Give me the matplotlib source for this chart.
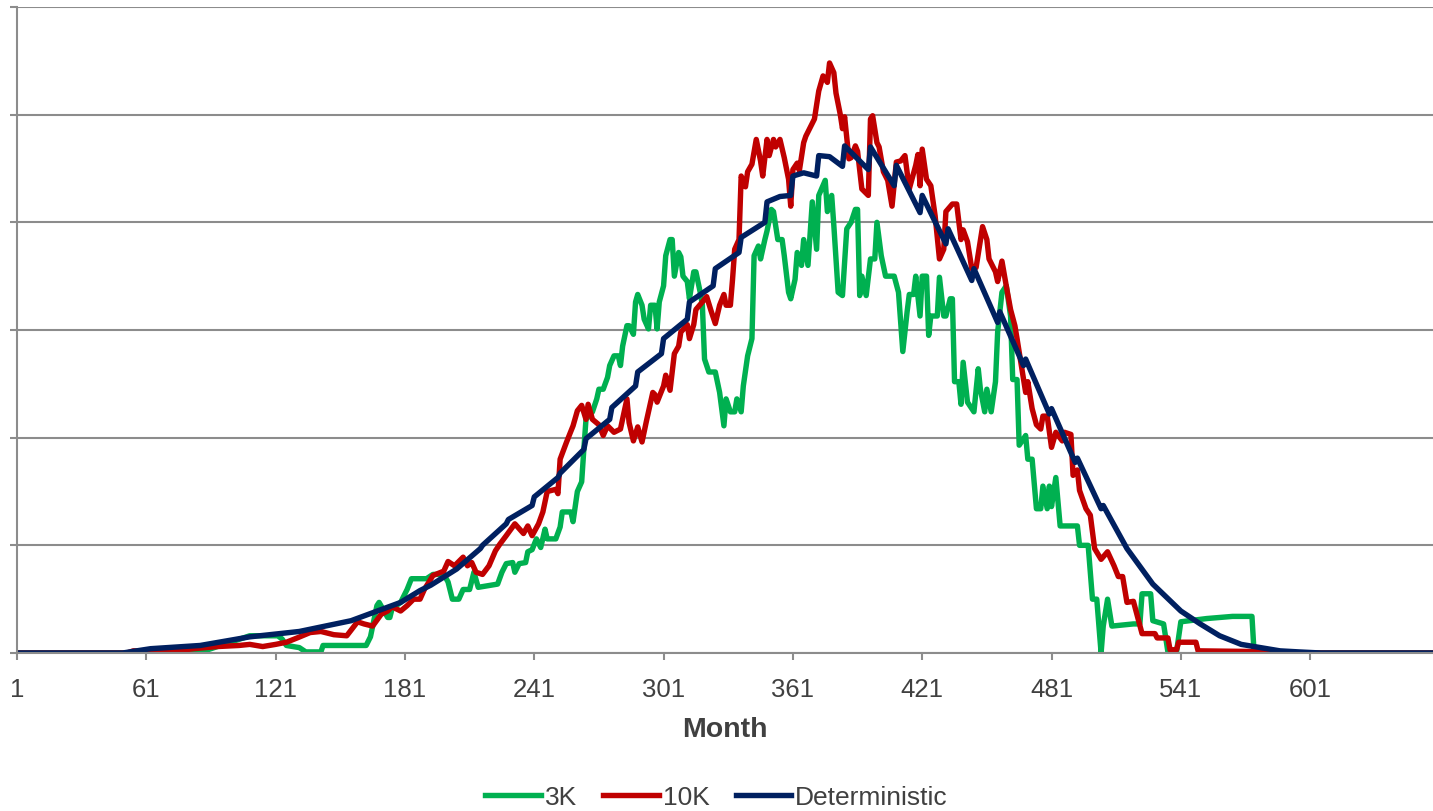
import matplotlib
matplotlib.use("Agg")
import matplotlib.pyplot as plt

plt.rcParams['font.family'] = ['Liberation Sans', 'DejaVu Sans']

# monthly series (month index, level)
det_month = [1, 50, 63, 86, 109, 132, 156, 179, 188, 193, 205, 216, 217, 228, 229,
             240, 241, 252, 253, 264, 265, 276, 277, 288, 289, 300, 301, 312, 313,
             324, 325, 336, 337, 348, 349, 355, 360, 361, 366, 372, 373, 378, 384,
             385, 396, 397, 408, 409, 420, 421, 432, 433, 444, 445, 456, 457, 468,
             469, 480, 481, 492, 493, 504, 505, 516, 528, 541, 550, 559, 569, 578,
             587, 596, 606, 658]
det_value = [0, 0, 4, 7, 15, 20, 30, 47, 58, 63, 78, 97, 100, 120, 124,
             137, 145, 163, 167, 189, 199, 217, 228, 248, 261, 278, 292, 310, 326,
             341, 357, 372, 386, 400, 419, 424, 425, 443, 446, 443, 462, 461, 452,
             471, 449, 470, 434, 453, 409, 425, 380, 394, 346, 357, 307, 317, 267,
             273, 222, 227, 177, 181, 134, 137, 97, 64, 39, 27, 16, 8, 5,
             2, 1, 0, 0]

k10_month = [1, 52, 55, 71, 83, 94, 104, 109, 115, 121, 126, 131, 137, 142, 148, 154,
             159, 162, 166, 170, 173, 175, 179, 182, 185, 188, 190, 194, 199, 201,
             204, 208, 210, 212, 214, 217, 220, 223, 225, 228, 232, 236, 238, 240,
             243, 245, 247, 251, 252, 253, 256, 259, 261, 263, 265, 266, 268, 271,
             273, 275, 278, 281, 284, 285, 287, 289, 291, 293, 296, 297, 298, 301,
             302, 304, 306, 308, 309, 312, 313, 315, 316, 319, 321, 323, 325, 327,
             329, 330, 332, 333, 334, 336, 337, 339, 340, 342, 344, 346, 347, 349,
             350, 352, 353, 355, 357, 359, 360, 361, 363, 364, 366, 367, 369, 371,
             373, 375, 377, 378, 380, 381, 383, 384, 385, 387, 388, 390, 391, 393,
             394, 396, 397, 398, 400, 401, 403, 405, 407, 409, 411, 413, 415, 418,
             419, 420, 421, 423, 425, 427, 429, 431, 432, 435, 437, 439, 440, 442,
             444, 446, 449, 451, 452, 455, 456, 458, 460, 462, 464, 465, 467, 469,
             470, 472, 474, 476, 477, 479, 481, 483, 486, 487, 490, 491, 493, 494,
             497, 499, 501, 504, 507, 510, 512, 514, 516, 519, 521, 523, 529, 530,
             535, 536, 539, 540, 548, 549, 590, 596, 658]
k10_value = [0, 0, 2, 1, 4, 6, 7, 8, 6, 8, 10, 14, 19, 20, 17, 16,
             29, 27, 25, 36, 39, 43, 39, 44, 50, 50, 59, 72, 76, 85,
             81, 89, 81, 84, 75, 73, 81, 95, 101, 109, 120, 111, 118, 109,
             120, 131, 150, 152, 148, 180, 196, 211, 225, 230, 217, 231, 217, 212,
             202, 211, 205, 208, 236, 214, 197, 210, 196, 215, 242, 240, 233, 248,
             258, 244, 278, 285, 298, 305, 292, 305, 319, 326, 331, 318, 306, 323,
             333, 323, 323, 347, 375, 384, 443, 433, 447, 454, 477, 457, 443, 477,
             462, 477, 470, 477, 460, 440, 415, 449, 455, 448, 474, 480, 488, 496,
             522, 536, 530, 548, 539, 520, 500, 487, 498, 459, 460, 471, 466, 431,
             429, 425, 496, 499, 474, 470, 447, 439, 415, 456, 457, 462, 431, 453,
             463, 434, 468, 440, 434, 406, 366, 375, 410, 417, 417, 384, 393, 382,
             357, 358, 396, 384, 366, 354, 345, 364, 341, 319, 304, 292, 267, 242,
             252, 227, 212, 208, 220, 220, 191, 205, 197, 205, 203, 165, 170, 151,
             134, 128, 97, 87, 94, 81, 71, 71, 47, 48, 33, 18, 18, 14,
             14, 3, 3, 10, 10, 2, 1, 0, 0]

k3_month = [1, 83, 88, 100, 109, 122, 124, 126, 132, 135, 142, 143, 163, 165, 168,
            169, 173, 174, 175, 179, 182, 184, 191, 194, 199, 201, 203, 206, 208,
            211, 213, 215, 224, 226, 228, 231, 232, 234, 237, 238, 240, 242, 244,
            246, 247, 251, 253, 254, 258, 259, 261, 263, 264, 265, 268, 270, 271,
            273, 275, 276, 278, 280, 281, 282, 284, 285, 287, 288, 289, 291, 292,
            294, 295, 297, 298, 299, 301, 302, 304, 305, 306, 308, 309, 310, 312,
            313, 315, 316, 318, 319, 320, 322, 325, 327, 329, 330, 332, 334, 335,
            337, 338, 340, 342, 343, 345, 346, 348, 349, 351, 352, 354, 356, 357,
            359, 360, 362, 363, 365, 366, 368, 370, 372, 373, 376, 377, 379, 380,
            382, 384, 386, 388, 390, 391, 392, 393, 395, 397, 399, 400, 402, 404,
            408, 410, 412, 414, 415, 417, 418, 420, 421, 423, 424, 425, 428, 429,
            431, 432, 434, 435, 436, 438, 439, 440, 442, 445, 447, 448, 450, 451,
            453, 455, 456, 458, 460, 462, 463, 465, 466, 469, 470, 472, 474, 476,
            477, 479, 480, 481, 483, 485, 493, 494, 498, 500, 502, 504, 505, 507,
            509, 519, 522, 523, 527, 528, 533, 535, 539, 541, 553, 565, 574, 575,
            658]
k3_value = [0, 0, 2, 10, 16, 16, 13, 7, 5, 1, 1, 7, 7, 15, 44,
            47, 33, 33, 41, 47, 59, 69, 69, 73, 73, 66, 50, 50, 59,
            59, 75, 61, 64, 75, 83, 84, 75, 83, 84, 94, 96, 106, 98,
            115, 106, 106, 117, 131, 131, 122, 150, 159, 189, 217, 224, 236, 245,
            245, 256, 267, 276, 276, 267, 285, 304, 304, 296, 326, 333, 323, 310,
            301, 323, 323, 301, 326, 341, 369, 384, 384, 350, 372, 368, 350, 345,
            329, 354, 354, 335, 323, 273, 261, 261, 242, 211, 236, 224, 224, 236,
            224, 248, 276, 292, 369, 378, 366, 384, 392, 412, 410, 384, 384, 369,
            335, 329, 347, 372, 360, 384, 360, 419, 375, 425, 439, 410, 425, 397,
            335, 332, 394, 400, 412, 412, 332, 350, 332, 366, 366, 400, 369, 350,
            350, 335, 280, 317, 333, 333, 350, 313, 350, 350, 295, 313, 313, 349,
            313, 313, 329, 329, 252, 252, 231, 270, 233, 224, 264, 245, 224, 245,
            224, 252, 298, 335, 341, 313, 254, 254, 193, 202, 180, 180, 134, 134,
            155, 134, 155, 136, 163, 118, 118, 100, 100, 50, 50, 0, 25, 50,
            25, 27, 27, 55, 55, 30, 27, 1, 1, 29, 32, 34, 34, 0,
            0]

x_ticks = [1, 61, 121, 181, 241, 301, 361, 421, 481, 541, 601]

fig = plt.figure(figsize=(14.33, 8.12), dpi=100)
ax = fig.add_axes([17 / 1433, 158 / 812, 1 - 17 / 1433, 1 - 8 / 812 - 158 / 812])

lw = 3.9
ax.plot(k3_month, k3_value, color='#00B050', lw=lw, label='3K', solid_joinstyle='round')
ax.plot(k10_month, k10_value, color='#C00000', lw=lw, label='10K', solid_joinstyle='round')
ax.plot(det_month, det_value, color='#002060', lw=lw, label='Deterministic', solid_joinstyle='round')

ax.set_xlim(1, 658)
ax.set_ylim(0, 600)
ax.set_yticks(range(0, 601, 100))
ax.set_yticklabels([])
ax.set_xticks(x_ticks)
ax.set_xticklabels([str(t) for t in x_ticks])

ax.grid(axis='y', color='#8c8c8c', lw=1.5)
ax.set_axisbelow(True)
for s in ['top', 'right']:
    ax.spines[s].set_visible(False)
for s in ['left', 'bottom']:
    ax.spines[s].set_color('#8c8c8c')
    ax.spines[s].set_linewidth(1.5)
ax.tick_params(axis='both', color='#8c8c8c', width=1.5, length=5)
ax.tick_params(axis='x', labelsize=18.5, labelcolor='#404040', pad=12)

ax.set_xlabel('Month', fontsize=20.5, fontweight='bold', color='#404040', labelpad=11)

fig.legend(loc='lower center', bbox_to_anchor=(0.5, -0.027), ncol=3, frameon=False,
           fontsize=19, labelcolor='#404040', handlelength=2.1, handletextpad=0.15,
           columnspacing=1.0)

fig.savefig('out.png', dpi=100)
